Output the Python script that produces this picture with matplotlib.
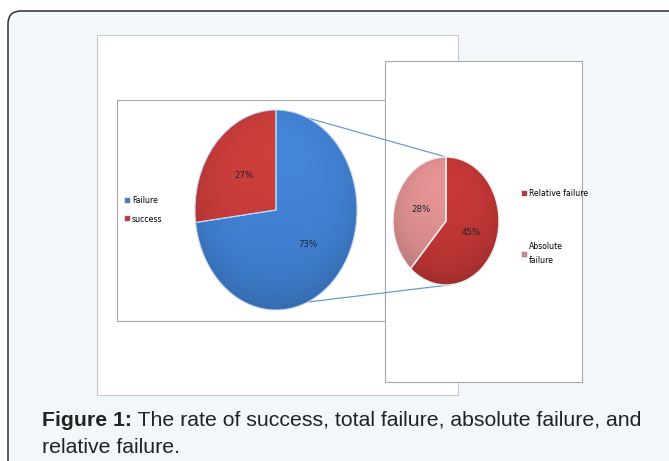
import numpy as np
import matplotlib.pyplot as plt
from matplotlib.patches import FancyBboxPatch, Rectangle, Patch
from matplotlib.colors import to_rgb

# data
main_labels = ["Failure", "success"]
main_values = [73, 27]
main_colors = ["#3F7DCC", "#BF3A38"]

sub_labels = ["Relative failure", "Absolute\nfailure"]
sub_values = [45, 28]
sub_colors = ["#BA3434", "#D68A8B"]

caption_bold = "Figure 1:"
caption_rest = " The rate of success, total failure, absolute failure, and"
caption_line2 = "relative failure."

W, H = 669, 461
fig = plt.figure(figsize=(W / 100, H / 100), dpi=100)
fig.patch.set_facecolor("white")

bg = fig.add_axes([0, 0, 1, 1])
bg.set_xlim(0, W)
bg.set_ylim(H, 0)
bg.axis("off")

# outer rounded card
bg.add_patch(FancyBboxPatch((8, 11), 700, 500, boxstyle="round,pad=0,rounding_size=13",
                            facecolor="#F2F7FA", edgecolor="#2F2F2F", linewidth=1.1))
# white image panel
bg.add_patch(Rectangle((97, 35), 361, 360, facecolor="white", edgecolor="#C9C9C9", linewidth=0.8))
# chart boxes
bg.add_patch(Rectangle((117, 100), 268, 221, facecolor="white", edgecolor="#A8A8A8", linewidth=0.8))
bg.add_patch(Rectangle((385, 61), 197, 321, facecolor="white", edgecolor="#A8A8A8", linewidth=0.8))


def pie_axes(x0, y0, x1, y1):
    ax = fig.add_axes([x0 / W, 1 - y1 / H, (x1 - x0) / W, (y1 - y0) / H])
    ax.axis("off")
    return ax


def shade(ax, wedges, colors):
    # soft Excel-like gradient: lighter at top, darker towards the bottom rim
    yy, xx = np.mgrid[1:-1:200j, -1:1:200j]
    r2 = xx ** 2 + yy ** 2
    f = 1.04 + 0.08 * yy - 0.10 * r2 ** 2
    for w, c in zip(wedges, colors):
        rgb = np.array(to_rgb(c))
        img = np.clip(rgb[None, None, :] * f[:, :, None], 0, 1)
        im = ax.imshow(img, extent=(-1, 1, -1, 1), aspect="auto", zorder=w.get_zorder() + 0.1)
        im.set_clip_path(w)
        w.set_zorder(w.get_zorder() + 0.2)
        w.set_facecolor("none")


label_font = dict(fontsize=6.2, color="#1E2530", family="DejaVu Sans")

left_box = (195, 110, 357, 310)
right_box = (393, 157, 499, 285)

ax1 = pie_axes(*left_box)
w1, t1, a1 = ax1.pie(main_values, colors=main_colors, startangle=90, counterclock=False,
                     radius=1, autopct="%d%%", pctdistance=0.52,
                     wedgeprops=dict(edgecolor="#BFD6F0", linewidth=0.8),
                     textprops=label_font)
ax1.set_xlim(-1, 1)
ax1.set_ylim(-1, 1)
ax1.set_aspect("auto")
shade(ax1, w1, main_colors)
for t in a1:
    t.set_zorder(5)

ax2 = pie_axes(*right_box)
w2, t2, a2 = ax2.pie(sub_values, colors=sub_colors, startangle=90, counterclock=False,
                     radius=1, autopct=lambda p: "%d%%" % round(p * sum(sub_values) / 100),
                     pctdistance=0.5,
                     wedgeprops=dict(edgecolor="#EDEDED", linewidth=1.0),
                     textprops=label_font)
ax2.set_xlim(-1, 1)
ax2.set_ylim(-1, 1)
ax2.set_aspect("auto")
shade(ax2, w2, sub_colors)
for t in a2:
    t.set_zorder(5)


def ellipse_pt(box, ang):
    x0, y0, x1, y1 = box
    cx, cy = (x0 + x1) / 2, (y0 + y1) / 2
    a, b = (x1 - x0) / 2, (y1 - y0) / 2
    return cx + a * np.cos(np.radians(ang)), cy - b * np.sin(np.radians(ang))


# connector lines
for la, ra in [(67, 90), (-67, -84)]:
    p, q = ellipse_pt(left_box, la), ellipse_pt(right_box, ra)
    bg.plot([p[0], q[0]], [p[1], q[1]], color="#6A9BD1", linewidth=0.9)

# legends
fig.legend(handles=[Patch(facecolor=c, edgecolor="#777777", linewidth=0.3) for c in main_colors],
           labels=main_labels, loc="center left",
           bbox_to_anchor=(121 / W, 1 - 210 / H), frameon=False,
           handlelength=0.6, handleheight=0.6, handletextpad=0.3, labelspacing=1.2,
           borderpad=0, prop=dict(family="DejaVu Sans", size=5.6))
leg2 = fig.legend(handles=[Patch(facecolor=c, edgecolor="#777777", linewidth=0.3) for c in sub_colors],
                  labels=sub_labels, loc="center left",
                  bbox_to_anchor=(518 / W, 1 - 227 / H), frameon=False,
                  handlelength=0.6, handleheight=0.6, handletextpad=0.3, labelspacing=5.6,
                  borderpad=0, prop=dict(family="DejaVu Sans", size=5.6))
for t in leg2.texts:
    t.set_linespacing(1.65)

# caption
cap = dict(fontsize=15.3, family="Liberation Sans", color="#222222", va="center")
tb = bg.text(42, 420, caption_bold, fontweight="bold", **cap)
bg.annotate(caption_rest, xy=(1, 0.5), xycoords=tb, ha="left", **cap)
bg.text(42, 447, caption_line2, **cap)

fig.savefig("out.png", dpi=100)
